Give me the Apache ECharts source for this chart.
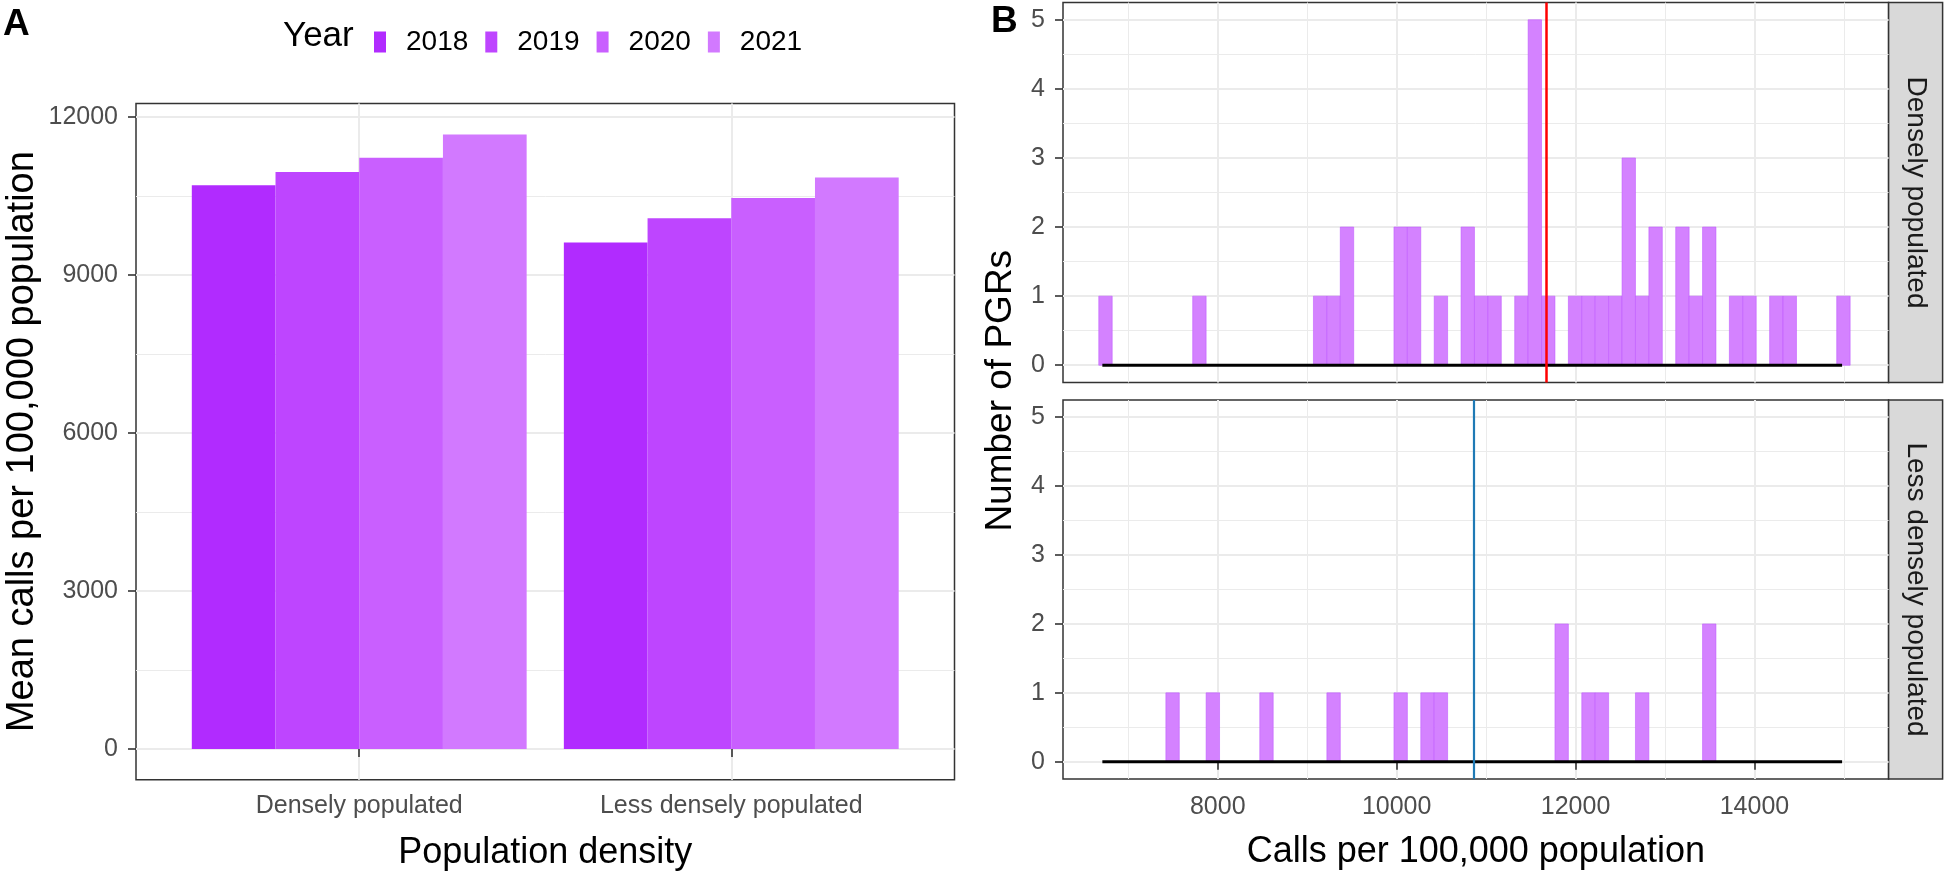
<!DOCTYPE html>
<html><head><meta charset="utf-8">
<script src="https://cdn.jsdelivr.net/npm/echarts@6/dist/echarts.min.js"></script>
<style>html,body{margin:0;padding:0;background:#fff}#c{width:1944px;height:876px}</style>
</head><body><div id="c"></div>
<script>
// ---------- Panel A data ----------
const densityCategories = ['Densely populated', 'Less densely populated'];
const years = ['2018', '2019', '2020', '2021'];
const meanCalls2018 = [10710, 9620];
const meanCalls2019 = [10960, 10080];
const meanCalls2020 = [11230, 10465];
const meanCalls2021 = [11670, 10855];
const barYTicks = [0, 3000, 6000, 9000, 12000];
const barYMinor = [1500, 4500, 7500, 10500];
const barXTicks = [1, 2];

// ---------- Panel B data (histogram, binwidth 150) ----------
const binStart = 6670;
const binWidth = 150;
const denseCounts = [1,0,0,0,0,0,0,1,0,0, 0,0,0,0,0,0,1,1,2,0, 0,0,2,2,0,1,0,2,1,1, 0,1,5,1,0,1,1,1,1,3, 1,2,0,2,1,2,0,1,1,0, 1,1,0,0,0,1];
const lessCounts  = [0,0,0,0,0,1,0,0,1,0, 0,0,1,0,0,0,0,1,0,0, 0,0,1,0,1,1,0,0,0,0, 0,0,0,0,2,0,1,1,0,0, 1,0,0,0,0,2,0,0,0,0, 0,0,0,0,0,0];
const meanLineDense = 11670;
const meanLineLess = 10860;
const zeroLineX = [6710, 14980];
const histXTicks = [8000, 10000, 12000, 14000];
const histXMinor = [7000, 9000, 11000, 13000, 15000];
const histYTicks = [0, 1, 2, 3, 4, 5];
const histYMinor = [0.5, 1.5, 2.5, 3.5, 4.5];
const facetLabels = ['Densely populated', 'Less densely populated'];

// ---------- styles ----------
const yearColors = ['#b12bff', '#be45ff', '#c95fff', '#d279ff'];
const histFill = '#d482ff';
const histStroke = 'rgba(190,85,255,0.55)';
const FONT = '"Liberation Sans", Arial, sans-serif';
const gridMajor = {show: true, lineStyle: {color: '#ebebeb', width: 2}};
const gridMinor = {show: true, lineStyle: {color: '#ebebeb', width: 1}};
const tickStyle = {lineStyle: {color: '#333333', width: 1.6}, length: 8};
const tickLabel = {color: '#4d4d4d', fontSize: 25, fontFamily: FONT, formatter: v => String(v)};

function histData(counts) {
  const out = [];
  counts.forEach((c, k) => { if (c > 0) out.push([binStart + k * binWidth, binStart + (k + 1) * binWidth, c]); });
  return out;
}
function histRender(params, api) {
  const p1 = api.coord([api.value(0), api.value(2)]);
  const p2 = api.coord([api.value(1), 0]);
  return {type: 'rect', shape: {x: p1[0], y: p1[1], width: p2[0] - p1[0], height: p2[1] - p1[1]},
          style: {fill: histFill, stroke: histStroke, lineWidth: 1}};
}

// layout (pixels)
const A = {left: 136, top: 103.5, width: 818.5, height: 676.2};
const aUnit = A.width / 2.2;
const B1 = {left: 1063, top: 2.5, width: 825.6, height: 380};
const B2 = {left: 1063, top: 400, width: 825.6, height: 379};
const stripW = 54;

function hiddenAxis(extra) {
  return Object.assign({axisLine: {show: false}, axisTick: {show: false}, axisLabel: {show: false}}, extra);
}

const chart = echarts.init(document.getElementById('c'), null, {renderer: 'canvas'});
const option = {
  animation: false,
  textStyle: {fontFamily: FONT},
  grid: [
    Object.assign({show: true, borderColor: '#333333', borderWidth: 1.5, backgroundColor: '#fff'}, A),
    {left: A.left + 0.1 * aUnit, top: A.top, width: 2 * aUnit, height: A.height},
    Object.assign({show: true, borderColor: '#333333', borderWidth: 1.5, backgroundColor: '#fff'}, B1),
    Object.assign({show: true, borderColor: '#333333', borderWidth: 1.5, backgroundColor: '#fff'}, B2)
  ],
  legend: {
    data: years, left: 369, top: 23, itemWidth: 12, itemHeight: 21, itemGap: 17, icon: 'rect',
    formatter: '{t|{name}}',
    textStyle: {color: '#000', fontSize: 28, rich: {t: {fontSize: 28, color: '#000', padding: [0, 0, 0, 15], fontFamily: FONT}}}
  },
  xAxis: [
    {gridIndex: 0, type: 'value', min: 0.4, max: 2.6, axisLine: {show: false},
     axisTick: Object.assign({customValues: barXTicks}, tickStyle),
     axisLabel: Object.assign({}, tickLabel, {customValues: barXTicks, margin: 14, formatter: v => densityCategories[Math.round(v) - 1]}),
     splitLine: gridMajor,
     name: 'Population density', nameLocation: 'middle', nameGap: 55,
     nameTextStyle: {fontSize: 36, color: '#000', fontFamily: FONT}},
    {gridIndex: 1, type: 'category', data: densityCategories, show: false},
    hiddenAxis({gridIndex: 2, type: 'value', min: 6270, max: 15500, axisTick: {show: false, customValues: histXTicks}, splitLine: gridMajor}),
    hiddenAxis({gridIndex: 2, type: 'value', min: 6270, max: 15500, axisTick: {show: false, customValues: histXMinor}, splitLine: gridMinor}),
    {gridIndex: 3, type: 'value', min: 6270, max: 15500, axisLine: {show: false},
     axisTick: Object.assign({customValues: histXTicks}, tickStyle),
     axisLabel: Object.assign({}, tickLabel, {customValues: histXTicks, margin: 16}),
     splitLine: gridMajor,
     name: 'Calls per 100,000 population', nameLocation: 'middle', nameGap: 55,
     nameTextStyle: {fontSize: 36, color: '#000', fontFamily: FONT}},
    hiddenAxis({gridIndex: 3, type: 'value', min: 6270, max: 15500, axisTick: {show: false, customValues: histXMinor}, splitLine: gridMinor})
  ],
  yAxis: [
    {gridIndex: 0, type: 'value', min: -584, max: 12261, axisLine: {show: false},
     axisTick: Object.assign({customValues: barYTicks}, tickStyle),
     axisLabel: Object.assign({}, tickLabel, {customValues: barYTicks, margin: 18}),
     splitLine: gridMajor,
     name: 'Mean calls per 100,000 population', nameLocation: 'middle', nameRotate: 90, nameGap: 94,
     nameTextStyle: {fontSize: 38, color: '#000', fontFamily: FONT}},
    hiddenAxis({gridIndex: 0, type: 'value', min: -584, max: 12261, axisTick: {show: false, customValues: barYMinor}, splitLine: gridMinor}),
    {gridIndex: 1, type: 'value', min: -584, max: 12261, show: false},
    {gridIndex: 2, type: 'value', min: -0.25, max: 5.25, axisLine: {show: false},
     axisTick: Object.assign({customValues: histYTicks}, tickStyle),
     axisLabel: Object.assign({}, tickLabel, {customValues: histYTicks, margin: 18}),
     splitLine: gridMajor},
    hiddenAxis({gridIndex: 2, type: 'value', min: -0.25, max: 5.25, axisTick: {show: false, customValues: histYMinor}, splitLine: gridMinor}),
    {gridIndex: 3, type: 'value', min: -0.25, max: 5.25, axisLine: {show: false},
     axisTick: Object.assign({customValues: histYTicks}, tickStyle),
     axisLabel: Object.assign({}, tickLabel, {customValues: histYTicks, margin: 18}),
     splitLine: gridMajor},
    hiddenAxis({gridIndex: 3, type: 'value', min: -0.25, max: 5.25, axisTick: {show: false, customValues: histYMinor}, splitLine: gridMinor})
  ],
  series: [
    {name: years[0], type: 'bar', xAxisIndex: 1, yAxisIndex: 2, data: meanCalls2018, itemStyle: {color: yearColors[0]}, barGap: '0%', barCategoryGap: '10%'},
    {name: years[1], type: 'bar', xAxisIndex: 1, yAxisIndex: 2, data: meanCalls2019, itemStyle: {color: yearColors[1]}, barGap: '0%', barCategoryGap: '10%'},
    {name: years[2], type: 'bar', xAxisIndex: 1, yAxisIndex: 2, data: meanCalls2020, itemStyle: {color: yearColors[2]}, barGap: '0%', barCategoryGap: '10%'},
    {name: years[3], type: 'bar', xAxisIndex: 1, yAxisIndex: 2, data: meanCalls2021, itemStyle: {color: yearColors[3]}, barGap: '0%', barCategoryGap: '10%'},
    {type: 'custom', xAxisIndex: 2, yAxisIndex: 3, data: histData(denseCounts), renderItem: histRender, z: 3, silent: true},
    {type: 'custom', xAxisIndex: 4, yAxisIndex: 5, data: histData(lessCounts), renderItem: histRender, z: 3, silent: true},
    {type: 'line', xAxisIndex: 2, yAxisIndex: 3, data: [[zeroLineX[0], 0], [zeroLineX[1], 0]], symbol: 'none',
     lineStyle: {color: '#000', width: 3.2}, z: 4, silent: true,
     markLine: {symbol: 'none', silent: true, label: {show: false}, lineStyle: {color: '#ff0000', width: 2.5, type: 'solid'},
                data: [{xAxis: meanLineDense}], z: 5}},
    {type: 'line', xAxisIndex: 4, yAxisIndex: 5, data: [[zeroLineX[0], 0], [zeroLineX[1], 0]], symbol: 'none',
     lineStyle: {color: '#000', width: 3.2}, z: 4, silent: true,
     markLine: {symbol: 'none', silent: true, label: {show: false}, lineStyle: {color: '#1f7ab5', width: 2.2, type: 'solid'},
                data: [{xAxis: meanLineLess}], z: 5}}
  ],
  graphic: [
    {type: 'text', left: 3, top: 6, style: {text: 'A', font: 'bold 37px ' + FONT, fill: '#000'}},
    {type: 'text', left: 991, top: 3, style: {text: 'B', font: 'bold 37px ' + FONT, fill: '#000'}},
    {type: 'text', x: 283, y: 36, style: {text: 'Year', font: '35px ' + FONT, fill: '#000', verticalAlign: 'middle', align: 'left'}},
    {type: 'rect', shape: {x: B1.left + B1.width, y: B1.top, width: stripW, height: B1.height},
     style: {fill: '#d9d9d9', stroke: '#333333', lineWidth: 1.5}},
    {type: 'rect', shape: {x: B2.left + B2.width, y: B2.top, width: stripW, height: B2.height},
     style: {fill: '#d9d9d9', stroke: '#333333', lineWidth: 1.5}},
    {type: 'text', x: B1.left + B1.width + stripW / 2, y: B1.top + B1.height / 2, rotation: -Math.PI / 2,
     style: {text: facetLabels[0], font: '28px ' + FONT, fill: '#1a1a1a', align: 'center', verticalAlign: 'middle'}},
    {type: 'text', x: B2.left + B2.width + stripW / 2, y: B2.top + B2.height / 2, rotation: -Math.PI / 2,
     style: {text: facetLabels[1], font: '28px ' + FONT, fill: '#1a1a1a', align: 'center', verticalAlign: 'middle'}},
    {type: 'text', x: 1001, y: (B1.top + B2.top + B2.height) / 2, rotation: Math.PI / 2,
     style: {text: 'Number of PGRs', font: '37px ' + FONT, fill: '#000', align: 'center', verticalAlign: 'middle'}}
  ]
};
chart.setOption(option);
</script>
</body></html>
